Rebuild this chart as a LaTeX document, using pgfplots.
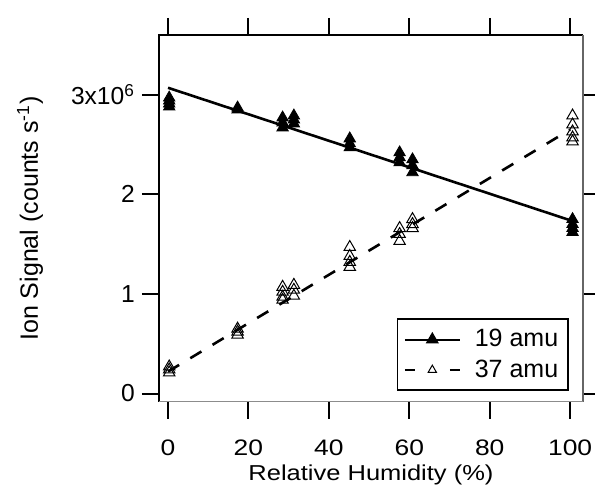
\documentclass[border=0pt]{standalone}
\usepackage{fontspec}
\setmainfont{Liberation Sans}
\newfontfamily\widefont[FakeStretch=1.18]{Liberation Sans}
\usepackage{pgfplots}
\pgfplotsset{compat=1.18}
\usepackage{pgfplotstable}

\pgfplotstableread{
x y
0.3 2.97e6
0.3 2.94e6
0.3 2.91e6
0.3 2.88e6
17.3 2.87e6
17.3 2.85e6
28.5 2.77e6
28.5 2.72e6
28.5 2.67e6
31.3 2.79e6
31.3 2.75e6
31.3 2.71e6
45.2 2.56e6
45.2 2.51e6
45.2 2.47e6
57.6 2.42e6
57.6 2.37e6
57.6 2.32e6
60.8 2.35e6
60.8 2.29e6
60.8 2.22e6
100.6 1.75e6
100.6 1.70e6
100.6 1.66e6
100.6 1.62e6
}\amuA

\pgfplotstableread{
x y
0.3 0.27e6
0.3 0.24e6
0.3 0.21e6
17.3 0.65e6
17.3 0.62e6
17.3 0.59e6
28.5 1.07e6
28.5 1.02e6
28.5 0.97e6
28.5 0.94e6
31.3 1.09e6
31.3 1.04e6
31.3 0.98e6
45.2 1.47e6
45.2 1.38e6
45.2 1.32e6
45.2 1.27e6
57.6 1.66e6
57.6 1.60e6
57.6 1.53e6
60.8 1.75e6
60.8 1.70e6
60.8 1.66e6
100.6 2.79e6
100.6 2.70e6
100.6 2.63e6
100.6 2.57e6
100.6 2.53e6
}\amuB

\begin{document}
\begin{tikzpicture}
\begin{axis}[
  scale only axis,
  width=212pt, height=183.5pt,
  xmin=-2.24, xmax=103.2,
  ymin=-0.085e6, ymax=3.6e6,
  clip=false,
  axis line style={draw=none},
  tick align=outside,
  major tick length=8.5pt,
  every tick/.style={black, line width=1pt},
  xtick={0,20,40,60,80,100},
  xtick pos=both, xticklabel pos=bottom,
  ytick={0,1e6,2e6,3e6},
  yticklabels={0,1,2,3x10\textsuperscript{6}},
  scaled y ticks=false,
  ytick pos=both, yticklabel pos=left,
  minor tick num=0,
  /pgf/number format/assume math mode=true,
  x tick label style={font=\widefont\fontsize{11.2}{13}\selectfont, anchor=base, yshift=-18.5pt},
  y tick label style={font=\fontsize{12.3}{15}\selectfont},
  xlabel={Relative Humidity (\%)},
  ylabel={Ion Signal (counts s\textsuperscript{-1})},
  x label style={font=\widefont\fontsize{10.8}{13}\selectfont, at={(axis description cs:0.5,-0.215)}, anchor=base},
  y label style={font=\fontsize{12.5}{15}\selectfont, at={(axis description cs:-0.304,0.5)}, anchor=center},
  legend style={at={(rel axis cs:1,0)}, anchor=south east, xshift=-7pt, yshift=5.5pt,
    draw=black, line width=0.8pt, font=\fontsize{12.5}{15}\selectfont,
    inner xsep=3pt, inner ysep=3pt, row sep=1pt},
  legend cell align=left,
]
\addplot[black, only marks, mark=triangle*, mark size=3.3pt, forget plot] table[x=x,y=y] {\amuA};
\addplot[black, line width=1.3pt, forget plot] coordinates {(0,3.07e6) (100,1.74e6)};
\addplot[black, only marks, mark=triangle, mark size=3.3pt, mark options={line width=0.5pt}, forget plot] table[x=x,y=y] {\amuB};
\addplot[black, line width=1.3pt, dash pattern=on 6.5pt off 6.5pt, forget plot] coordinates {(0,0.22e6) (100,2.65e6)};

\addlegendimage{legend image code/.code={
  \path[draw=none] (0pt,0pt) (33pt,0pt);
  \draw[black, solid, line width=1pt] (0pt,0pt) -- (27.5pt,0pt);
  \path[black] plot[mark=triangle*, mark size=3pt] coordinates {(13.75pt,0pt)};
}}
\addlegendentry{19 amu}
\addlegendimage{legend image code/.code={
  \path[draw=none] (0pt,0pt) (33pt,0pt);
  \draw[black, solid, line width=1.3pt] (0pt,0pt) -- (5pt,0pt);
  \draw[black, solid, line width=1.3pt] (22.5pt,0pt) -- (27.5pt,0pt);
  \path[black] plot[mark=triangle, mark size=2.4pt, mark options={line width=0.5pt}] coordinates {(13.75pt,0pt)};
}}
\addlegendentry{37 amu}

\draw[black, line width=1pt] (rel axis cs:0,0) -- (rel axis cs:0,1) -- (rel axis cs:1,1);
\draw[black!60, line width=0.9pt] (rel axis cs:1,1) -- (rel axis cs:1,0);
\draw[black!45, line width=0.5pt] (rel axis cs:0,0) -- (rel axis cs:1,0);
\coordinate (SW) at (rel axis cs:0,0);
\coordinate (NE) at (rel axis cs:1,1);
\end{axis}
\pgfresetboundingbox
\useasboundingbox ([shift={(-79.5pt,-44.5pt)}]SW) rectangle ([shift={(6pt,17.5pt)}]NE);
\end{tikzpicture}
\end{document}
